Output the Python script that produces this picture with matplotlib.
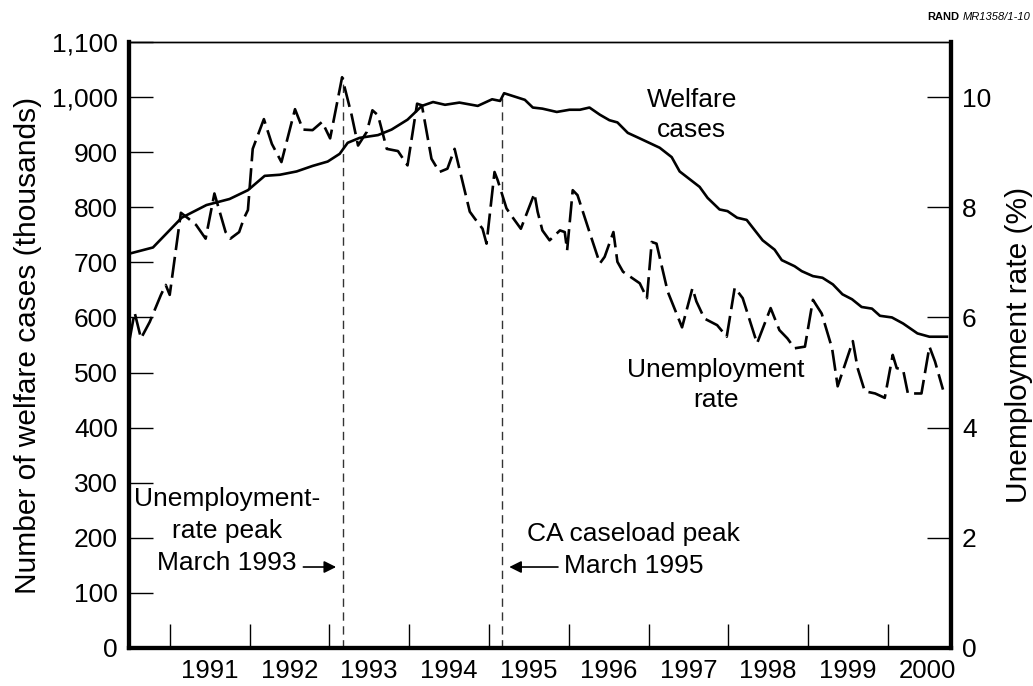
import numpy as np
import matplotlib
matplotlib.use("Agg")
import matplotlib.pyplot as plt

plt.rcParams['font.family'] = ['Liberation Sans', 'DejaVu Sans']

# welfare caseload (thousands), vertices, x in decimal years
welfare_t = [1990.50, 1990.79, 1991.15, 1991.46, 1991.75, 1991.98, 1992.19, 1992.38,
             1992.59, 1992.79, 1992.98, 1993.13, 1993.23, 1993.38, 1993.61, 1993.78,
             1993.98, 1994.16, 1994.30, 1994.45, 1994.63, 1994.86, 1995.04, 1995.14,
             1995.19, 1995.45, 1995.55, 1995.67, 1995.85, 1996.01, 1996.14, 1996.26,
             1996.39, 1996.51, 1996.61, 1996.74, 1996.89, 1997.14, 1997.29, 1997.39,
             1997.64, 1997.74, 1997.89, 1997.99, 1998.11, 1998.23, 1998.43, 1998.58,
             1998.67, 1998.83, 1998.92, 1999.06, 1999.18, 1999.31, 1999.43, 1999.55,
             1999.67, 1999.80, 1999.90, 2000.05, 2000.19, 2000.27, 2000.37, 2000.52,
             2000.74]
welfare_v = [716, 727, 781, 804, 815, 831, 857, 859,
             865, 875, 883, 897, 917, 926, 931, 941,
             959, 984, 991, 986, 990, 984, 996, 993,
             1007, 995, 981, 979, 973, 977, 977, 981,
             968, 958, 954, 935, 925, 908, 891, 865,
             837, 817, 796, 793, 781, 777, 740, 723,
             704, 693, 684, 675, 672, 660, 642, 633,
             619, 616, 603, 600, 589, 581, 571, 565,
             565]

# unemployment rate (%), vertices
unemp_t = [1990.50, 1990.56, 1990.64, 1990.75, 1990.89, 1990.95, 1991.00, 1991.14,
           1991.23, 1991.33, 1991.45, 1991.56, 1991.70, 1991.76, 1991.87, 1991.93,
           1991.98, 1992.04, 1992.18, 1992.28, 1992.40, 1992.57, 1992.67, 1992.79,
           1992.91, 1993.01, 1993.16, 1993.28, 1993.36, 1993.47, 1993.54, 1993.61,
           1993.72, 1993.86, 1993.98, 1994.10, 1994.16, 1994.28, 1994.38, 1994.48,
           1994.57, 1994.66, 1994.76, 1994.82, 1994.92, 1994.97, 1995.07, 1995.11,
           1995.22, 1995.29, 1995.40, 1995.57, 1995.61, 1995.67, 1995.76, 1995.89,
           1995.95, 1995.98, 1996.05, 1996.11, 1996.26, 1996.39, 1996.45, 1996.56,
           1996.61, 1996.68, 1996.89, 1996.98, 1997.04, 1997.10, 1997.24, 1997.42,
           1997.55, 1997.60, 1997.70, 1997.86, 1997.98, 1998.08, 1998.18, 1998.36,
           1998.53, 1998.64, 1998.74, 1998.83, 1998.96, 1999.06, 1999.17, 1999.30,
           1999.37, 1999.56, 1999.62, 1999.71, 1999.84, 1999.96, 2000.06, 2000.11,
           2000.19, 2000.25, 2000.42, 2000.52, 2000.59, 2000.69]
unemp_v = [5.62, 6.09, 5.62, 5.92, 6.41, 6.59, 6.41, 7.90,
           7.80, 7.68, 7.43, 8.25, 7.55, 7.43, 7.55, 7.80,
           7.95, 9.06, 9.60, 9.15, 8.82, 9.78, 9.41, 9.40,
           9.55, 9.25, 10.36, 9.67, 9.12, 9.37, 9.76, 9.67,
           9.06, 9.02, 8.76, 9.88, 9.85, 8.88, 8.64, 8.70,
           9.06, 8.52, 7.92, 7.80, 7.61, 7.34, 8.64, 8.49,
           7.98, 7.83, 7.61, 8.25, 7.92, 7.58, 7.40, 7.58,
           7.55, 7.22, 8.31, 8.22, 7.55, 6.98, 7.10, 7.55,
           7.01, 6.83, 6.62, 6.35, 7.37, 7.34, 6.47, 5.82,
           6.53, 6.29, 5.98, 5.86, 5.65, 6.54, 6.35, 5.53,
           6.17, 5.77, 5.62, 5.44, 5.47, 6.32, 6.07, 5.44,
           4.75, 5.57, 5.08, 4.66, 4.62, 4.54, 5.32, 5.08,
           5.05, 4.62, 4.62, 5.47, 5.20, 4.69]

years = list(range(1991, 2001))
year_labels = [str(y) for y in years]
left_ticks = list(range(0, 1101, 100))
left_labels = ['0', '100', '200', '300', '400', '500', '600', '700', '800', '900',
               '1,000', '1,100']
right_ticks = [0, 2, 4, 6, 8, 10]

unemp_peak = (1993.167, 10.36)
case_peak = (1995.167, 1007)

fs = 19
fig = plt.figure(figsize=(10.33, 6.86), dpi=100)
ax = fig.add_axes([0.1249, 0.0554, 0.7957, 0.8834])
ax2 = ax.twinx()

ax.plot(welfare_t, welfare_v, color='black', lw=1.9, solid_joinstyle='round', zorder=3)
ax2.plot(unemp_t, unemp_v, color='black', lw=1.9, dashes=(8, 2.6), zorder=3)

# peak markers
ax.plot([unemp_peak[0]] * 2, [0, unemp_peak[1] * 100], color='#333333', lw=1.0,
        dashes=(6, 4))
ax.plot([case_peak[0]] * 2, [0, case_peak[1]], color='#333333', lw=1.0,
        dashes=(6, 4))

ax.set_xlim(1990.49, 2000.79)
ax.set_ylim(0, 1100)
ax2.set_ylim(0, 11)

ax.set_xticks(years)
ax.set_xticklabels([])
ax.set_xticks([y + 0.5 for y in years], minor=True)
ax.set_xticklabels(year_labels, minor=True, fontsize=18.5)
ax.tick_params(axis='x', which='major', direction='in', length=17, width=1.0)
ax.tick_params(axis='x', which='minor', length=0, pad=8)

ax.set_yticks(left_ticks)
ax.set_yticklabels(left_labels, fontsize=fs)
ax.tick_params(axis='y', direction='in', length=17, width=1.0, pad=8)

ax2.set_yticks(right_ticks)
ax2.set_yticklabels([str(v) for v in right_ticks], fontsize=fs)
ax2.tick_params(axis='y', direction='in', length=17, width=1.0, pad=8)

for a in (ax, ax2):
    for s in ('left', 'bottom', 'right'):
        a.spines[s].set_linewidth(3.0)
    a.spines['top'].set_linewidth(1.0)

ax.set_ylabel('Number of welfare cases (thousands)', fontsize=21.5, labelpad=7)
ax2.set_ylabel('Unemployment rate (%)', fontsize=21.5, labelpad=10)

ax.text(1997.54, 967, 'Welfare\ncases', fontsize=fs, ha='center', va='center',
        linespacing=1.3)
ax.text(1997.84, 477, 'Unemployment\nrate', fontsize=fs, ha='center', va='center',
        linespacing=1.3)
ax.text(1991.72, 212, 'Unemployment-\nrate peak\nMarch 1993', fontsize=fs,
        ha='center', va='center', multialignment='center', linespacing=1.42)
ax.text(1996.81, 178, 'CA caseload peak\nMarch 1995', fontsize=fs,
        ha='center', va='center', multialignment='center', linespacing=1.4)

ax.annotate('', xy=(1993.12, 147), xytext=(1992.64, 147),
            arrowprops=dict(arrowstyle='-|>', color='black', lw=1.2,
                            mutation_scale=18))
ax.annotate('', xy=(1995.22, 147), xytext=(1995.90, 147),
            arrowprops=dict(arrowstyle='-|>', color='black', lw=1.2,
                            mutation_scale=18))

fig.text(0.929, 0.975, 'RAND', fontsize=8, fontweight='bold', ha='right', va='center')
fig.text(0.932, 0.975, 'MR1358/1-10', fontsize=8, fontstyle='italic', ha='left',
         va='center')

fig.savefig('out.png', dpi=100)
